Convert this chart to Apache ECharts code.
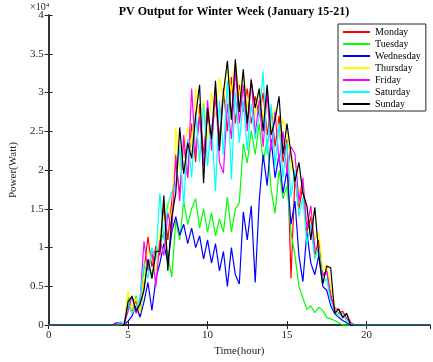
<!DOCTYPE html>
<html>
<head>
<meta charset="utf-8">
<script src="https://cdn.jsdelivr.net/npm/echarts@6/dist/echarts.min.js"></script>
<style>
  html, body { margin: 0; padding: 0; background: #fff; }
  #chart { width: 433px; height: 362px; }
</style>
</head>
<body>
<div id="chart"></div>
<script>
// hours of the day (0, then every 15 min from 4:00 to 19:15, then 24)
const hours = [0,
  4, 4.25, 4.5, 4.75, 5, 5.25, 5.5, 5.75, 6, 6.25, 6.5, 6.75,
  7, 7.25, 7.5, 7.75, 8, 8.25, 8.5, 8.75, 9, 9.25, 9.5, 9.75,
  10, 10.25, 10.5, 10.75, 11, 11.25, 11.5, 11.75, 12, 12.25, 12.5, 12.75,
  13, 13.25, 13.5, 13.75, 14, 14.25, 14.5, 14.75, 15, 15.25, 15.5, 15.75,
  16, 16.25, 16.5, 16.75, 17, 17.25, 17.5, 17.75, 18, 18.25, 18.5, 18.75,
  19, 19.25, 24];

const monday = [0,
  0, 0, 200, 100, 2500, 1800, 3200, 1200, 7000, 11400, 7500, 10200,
  9000, 15500, 11000, 16000, 21000, 17000, 23500, 19000, 26000, 21000, 28500, 22000,
  27000, 23500, 29500, 24000, 30500, 25000, 32000, 26000, 31000, 27500, 30500, 26000,
  29500, 27000, 30000, 24500, 28000, 23000, 27000, 21000, 24000, 6000, 19000, 15000,
  18000, 12000, 14000, 9000, 11000, 6500, 7000, 4000, 2000, 1500, 1800, 800,
  300, 0, 0];

const tuesday = [0,
  0, 0, 100, 300, 3600, 2000, 3800, 1500, 5000, 8000, 6500, 9000,
  10500, 12000, 9000, 6200, 13500, 11000, 16000, 13000, 15000, 16300, 12500, 15000,
  12000, 14500, 11500, 13700, 12000, 16500, 12000, 15000, 15800, 23400, 20900, 25100,
  22000, 26000, 21000, 24000, 17500, 14400, 20000, 16300, 18000, 12000, 9000, 5000,
  3500, 2000, 2500, 1600, 2300, 1900, 1000, 800, 600, 300, 0, 0,
  0, 0, 0];

const wednesday = [0,
  0, 300, 200, 100, 500, 1200, 2500, 1000, 3000, 5500, 1900, 6000,
  8000, 10500, 8000, 12000, 14000, 11600, 13000, 10500, 12500, 10000, 11500, 8500,
  11000, 8000, 10500, 7000, 9500, 5000, 10000, 6500, 5300, 14600, 11000, 15400,
  5500, 16000, 22000, 18000, 24000, 19000, 22000, 17000, 20000, 13000, 16000, 9000,
  5600, 12000, 8000, 6500, 9000, 5000, 4500, 2500, 1500, 1000, 600, 300,
  0, 0, 0];

const thursday = [0,
  0, 0, 0, 200, 4400, 2000, 3500, 1500, 6500, 9500, 8500, 7000,
  12000, 14000, 16000, 13000, 25500, 20000, 22500, 25500, 23000, 30500, 26000, 29000,
  24000, 30000, 27000, 32000, 29000, 33500, 30000, 34000, 29500, 32500, 28000, 31000,
  27000, 30500, 26500, 29000, 25000, 28000, 24000, 26500, 25100, 20000, 21500, 17000,
  18500, 13000, 15000, 11000, 12000, 7000, 7800, 5000, 2500, 1200, 1500, 600,
  200, 0, 0];

const friday = [0,
  0, 200, 400, 0, 1800, 3800, 1500, 3000, 10800, 7000, 9500, 5000,
  11000, 9000, 14500, 12000, 22000, 16000, 24500, 19000, 30500, 22000, 27000, 20500,
  29000, 22500, 30500, 21000, 19600, 28500, 24000, 33000, 26000, 31000, 25000, 31800,
  24500, 29000, 23000, 30000, 22500, 27500, 21000, 25000, 19500, 23000, 22100, 16000,
  19000, 12500, 15400, 10000, 9500, 6300, 7000, 3500, 2200, 2000, 900, 1500,
  400, 0, 0];

const saturday = [0,
  0, 0, 300, 200, 2800, 1500, 2200, 3500, 8000, 6000, 10000, 8500,
  17000, 11000, 15500, 17200, 18000, 23000, 15500, 24000, 19000, 27500, 21000, 28500,
  20500, 26000, 17300, 29000, 22000, 31500, 18800, 30000, 23500, 29000, 22500, 28500,
  24000, 27000, 32700, 22000, 28500, 20500, 26000, 19000, 23500, 16500, 20000, 14000,
  16500, 10500, 13000, 8500, 10000, 5500, 6000, 3000, 1800, 1200, 1500, 500,
  200, 0, 0];

const sunday = [0,
  0, 0, 0, 0, 3000, 3700, 1800, 2700, 4500, 8500, 6000, 9500,
  9500, 16700, 7000, 14000, 17000, 25500, 19500, 23500, 21500, 27000, 31000, 18300,
  28000, 24000, 31500, 22500, 30000, 34100, 26500, 34300, 27500, 33000, 26000, 31600,
  28000, 30500, 25000, 31000, 24500, 26500, 29500, 22000, 26000, 22100, 18500, 21000,
  17000, 15400, 11000, 15200, 9100, 5300, 7600, 7400, 1500, 2100, 1000, 1500,
  0, 0, 0];

const dayNames = ["Monday", "Tuesday", "Wednesday", "Thursday", "Friday", "Saturday", "Sunday"];
const dayData = [monday, tuesday, wednesday, thursday, friday, saturday, sunday];
const dayColors = ["#ff0000", "#00ff00", "#0000ff", "#ffff00", "#ff00ff", "#00ffff", "#000000"];

const FONT = "Liberation Serif";
const AXIS_COLOR = "#262626";

const chart = echarts.init(document.getElementById("chart"), null, { renderer: "canvas" });

const series = dayNames.map((name, k) => ({
  name,
  type: "line",
  data: hours.map((h, i) => [h, dayData[k][i]]),
  symbol: "none",
  lineStyle: { width: 1.2, color: dayColors[k] },
  itemStyle: { color: dayColors[k] },
  xAxisIndex: 0,
  yAxisIndex: 0,
  z: 2 + k,
}));

const boxAxis = {
  axisLine: { show: true, lineStyle: { color: AXIS_COLOR, width: 1.5 } },
  axisTick: { show: true, inside: true, length: 4, lineStyle: { color: AXIS_COLOR } },
  splitLine: { show: false },
};

chart.setOption({
  animation: false,
  title: {
    text: "PV Output for Winter Week (January 15-21)",
    left: 229,
    textAlign: "center",
    top: 1,
    textStyle: { fontFamily: FONT, fontSize: 12, fontWeight: "bold", color: "#000" },
  },
  grid: { left: 29, right: 3, top: 15, bottom: 30 },
  legend: {
    data: dayNames,
    orient: "vertical",
    left: 338,
    top: 24,
    icon: "rect",
    itemWidth: 27,
    itemHeight: 2,
    itemGap: 0,
    padding: [2, 5, 1, 5],
    backgroundColor: "#fff",
    borderColor: AXIS_COLOR,
    borderWidth: 1,
    textStyle: { fontFamily: FONT, fontSize: 10, lineHeight: 12, color: "#000" },
  },
  xAxis: [
    Object.assign({}, boxAxis, {
      type: "value",
      min: 0,
      max: 24,
      interval: 5,
      name: "Time(hour)",
      nameLocation: "middle",
      nameGap: 19,
      nameTextStyle: { fontFamily: FONT, fontSize: 11, color: AXIS_COLOR },
      axisLabel: { fontFamily: FONT, fontSize: 11, color: AXIS_COLOR, margin: 5, showMaxLabel: false },
    }),
    Object.assign({}, boxAxis, {
      type: "value",
      position: "top",
      min: 0,
      max: 24,
      interval: 5,
      axisLabel: { show: false },
    }),
  ],
  yAxis: [
    Object.assign({}, boxAxis, {
      type: "value",
      min: 0,
      max: 40000,
      interval: 5000,
      name: "Power(Watt)",
      nameLocation: "middle",
      nameGap: 22,
      nameTextStyle: { fontFamily: FONT, fontSize: 11, color: AXIS_COLOR },
      axisLabel: {
        fontFamily: FONT, fontSize: 11, color: AXIS_COLOR, margin: 5,
        formatter: (v) => String(v / 10000),
      },
    }),
    Object.assign({}, boxAxis, {
      type: "value",
      position: "right",
      min: 0,
      max: 40000,
      interval: 5000,
      axisLabel: { show: false },
    }),
  ],
  graphic: [
    {
      type: "text",
      left: 30,
      top: 2,
      style: {
        text: "×10{s|4}",
        rich: { s: { fontSize: 7, verticalAlign: "top", fontFamily: FONT, fill: AXIS_COLOR, padding: [0, 0, 4, 0] } },
        fontFamily: FONT,
        fontSize: 10,
        fill: AXIS_COLOR,
      },
    },
  ],
  series,
});
</script>
</body>
</html>
